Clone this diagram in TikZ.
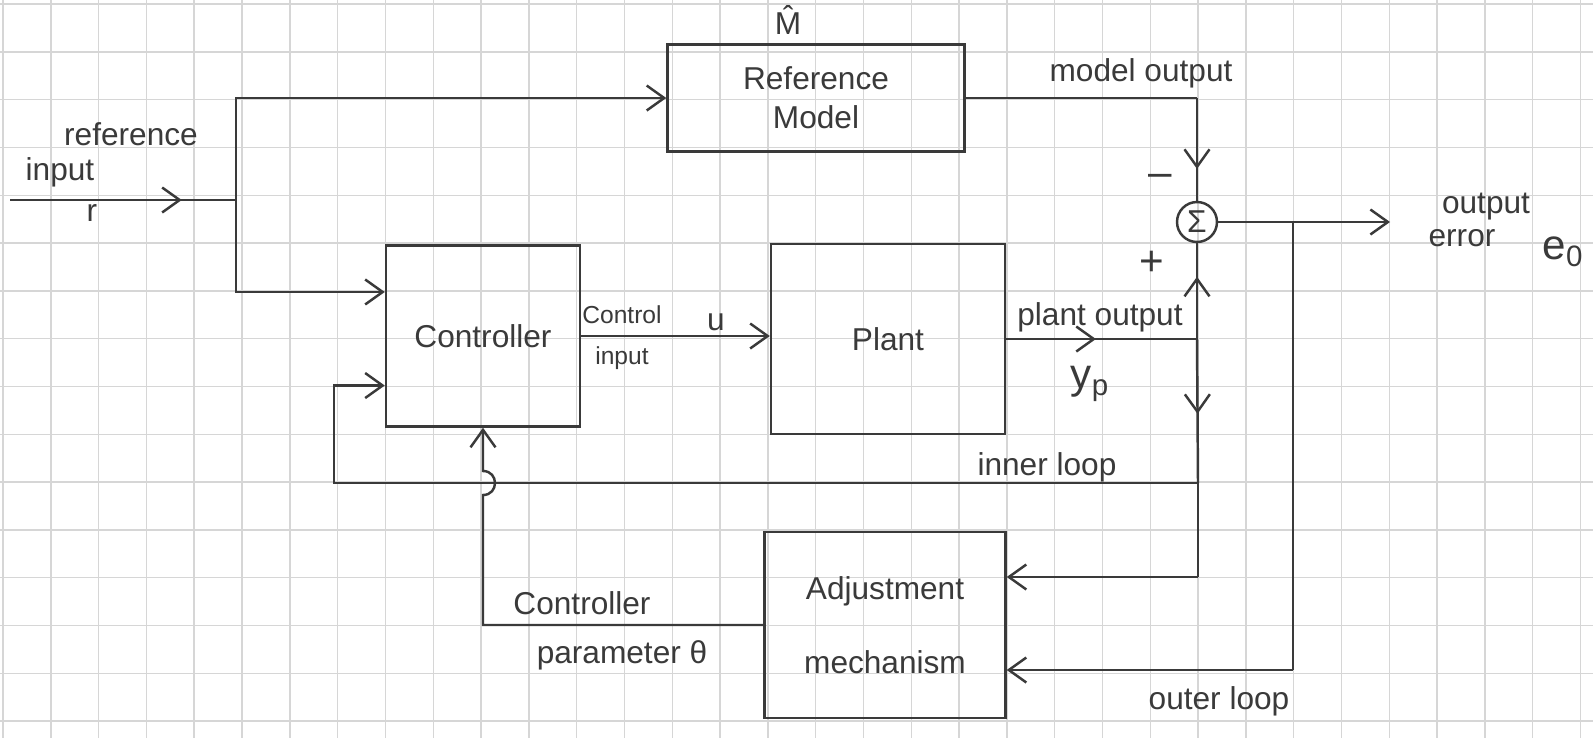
\documentclass[tikz,border=0pt]{standalone}
\usepackage{fontspec}
\setmainfont{Liberation Sans}
\usepackage{tikz}
\usetikzlibrary{arrows.meta,positioning,calc,decorations.markings}
\definecolor{ink}{HTML}{3A3A3A}
\definecolor{paper}{HTML}{D6D6D6}
\newcommand{\hand}{\fontsize{18}{22}\selectfont}
\newcommand{\handsmall}{\fontsize{14}{17}\selectfont}
\newcommand{\handbig}{\fontsize{24}{28}\selectfont}
\tikzset{
  >={Straight Barb[length=3.5mm,width=5mm]},
  every node/.style={font=\hand,text=ink},
  block/.style={draw=ink,line width=1.4pt,align=center,inner sep=4pt},
  sumnode/.style={circle,draw=ink,line width=1.4pt,minimum size=8mm,inner sep=0pt},
  wire/.style={draw=ink,line width=1.4pt},
  arrow/.style={wire,->},
  midarrow/.style={wire,postaction={decorate},decoration={markings,mark=at position #1 with {\arrow{>}}}},
  gridline/.style={draw=paper,line width=0.8pt},
  lbl/.style={inner sep=1pt,align=center},
  smalllbl/.style={lbl,font=\handsmall},
  biglbl/.style={lbl,font=\handbig},
}

\begin{document}
\begin{tikzpicture}[x=0.02cm,y=-0.02cm]

% graph paper
\fill[white] (0,0) rectangle (1593,738);
\useasboundingbox (0,0) rectangle (1593,738);
\foreach \gx in {0,...,33} \draw[gridline] ({3+47.8*\gx},0) -- ({3+47.8*\gx},738);
\foreach \gy in {0,...,15} \draw[gridline] (0,{4+47.8*\gy}) -- (1593,{4+47.8*\gy});

% blocks
\node[block,minimum width=5.94cm,minimum height=2.14cm] (refm) at (816,98) {Reference\\Model};
\node[block,minimum width=3.88cm,minimum height=3.62cm] (ctrl) at (483,336) {Controller};
\node[block,minimum width=4.68cm,minimum height=3.8cm] (plant) at (888,339) {Plant};
\node[block,minimum width=4.82cm,minimum height=3.72cm] (adj) at (885,625) {Adjustment\\[7mm]mechanism};
\node[sumnode] (sum) at (1197,222) {Σ};

% branch points
\coordinate (rin) at (10,200);
\coordinate (split) at (236,200);
\coordinate (cin1) at ($(ctrl.north west)!0.26!(ctrl.south west)$);
\coordinate (cin2) at ($(ctrl.south west)!0.23!(ctrl.north west)$);
\coordinate (mo) at (sum.north |- refm.east);
\coordinate (pj) at (sum.south |- plant.east);
\coordinate (ij) at (1198,483);
\coordinate (il) at (334,483);
\coordinate (aj) at (1198,577);
\coordinate (oj) at (1293,222);
\coordinate (ol) at (1293,670);
\coordinate (err) at (1390,222);
\coordinate (pc) at (ctrl.south |- adj.west);
\coordinate (cross) at (ctrl.south |- il);

% signal paths
\draw[midarrow=0.76] (rin) -- (split);
\draw[arrow] (split) |- (refm.west);
\draw[arrow] (split) |- (cin1);
\draw[arrow] (ctrl.east) -- (ctrl.east -| plant.west);
\draw[midarrow=0.47] (plant.east) -- (pj);
\draw[wire] (refm.east) -- (mo);
\draw[midarrow=0.69] (mo) -- (sum.north);
\draw[midarrow=0.65] (pj) -- (sum.south);
\draw[arrow] (sum.east) -- (err);
\draw[midarrow=0.52] (pj) -- (ij);
\draw[wire] (ij) -- (aj);
\draw[arrow] (aj) -- (aj -| adj.east);
\draw[arrow] (ij) -- (il) |- (cin2);
\draw[wire] (oj) -- (ol);
\draw[arrow] (ol) -- (ol -| adj.east);
\draw[arrow] (adj.west) -- (pc) -- ($(cross)+(0,12)$)
  .. controls ($(cross)+(16,12)$) and ($(cross)+(16,-12)$) .. ($(cross)+(0,-12)$) -- (ctrl.south);

% labels
\node[lbl] (mhat) at (788,20) {\^{M}};
\node[lbl] (reflbl) at (131,134) {reference};
\node[lbl] (inlbl) at (60,172) {input};
\node[lbl] (rlbl) at (92,213) {r};
\node[lbl] (molbl) at (1141,73) {model output};
\node[biglbl] (minus) at (1160,180) {–};
\node[biglbl] (plus) at (1152,263) {+};
\node[lbl] (outlbl) at (1486,207) {output};
\node[lbl] (errlbl) at (1462,238) {error};
\node[biglbl] (e0lbl) at (1563,252) {e\textsubscript{0}};
\node[smalllbl] (ctllbl) at (622,315) {Control};
\node[smalllbl] (ctilbl) at (622,358) {input};
\node[lbl] (ulbl) at (716,322) {u};
\node[lbl] (polbl) at (1100,317) {plant output};
\node[biglbl] (yplbl) at (1090,384) {y\textsubscript{p}};
\node[lbl] (illbl) at (1047,467) {inner loop};
\node[lbl] (cplbl) at (582,603) {Controller};
\node[lbl] (palbl) at (622,655) {parameter θ};
\node[lbl] (ollbl) at (1219,701) {outer loop};

\end{tikzpicture}
\end{document}
